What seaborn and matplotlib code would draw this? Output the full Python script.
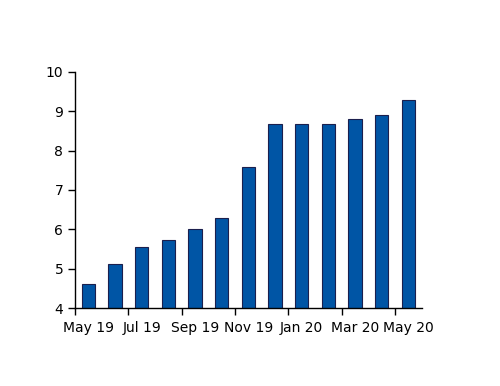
import numpy as np
import pandas as pd
import matplotlib
matplotlib.use("Agg")
import matplotlib.pyplot as plt
import seaborn as sns

# Données
months = ["May 19", "Jun 19", "Jul 19", "Aug 19", "Sep 19", "Oct 19", "Nov 19",
          "Dec 19", "Jan 20", "Feb 20", "Mar 20", "Apr 20", "May 20"]
values = [4.62, 5.12, 5.56, 5.72, 6.0, 6.29, 7.59, 8.68, 8.68, 8.68, 8.80, 8.90, 9.29]
tick_labels = ["May 19", "Jul 19", "Sep 19", "Nov 19", "Jan 20", "Mar 20", "May 20"]

df = pd.DataFrame({"month": months, "value": values})

sns.set_style("white")
plt.rcParams["font.family"] = ["DejaVu Sans"]

fig = plt.figure(figsize=(5, 3.86), dpi=100)
ax = fig.add_axes([0.15, 0.2013, 0.6934, 0.613])

sns.barplot(data=df, x="month", y="value", order=months, color="#0055a5",
            saturation=1, width=0.5, edgecolor="#1b1f4d", linewidth=0.8, ax=ax)

ax.set_xlim(-0.5, len(months) - 0.5)
ax.set_ylim(4, 10)
ax.set_yticks(range(4, 11))

# Graduations entre les barres, étiquettes sous une barre sur deux
ax.set_xticks(np.arange(-0.5, len(months) - 1, 2))
ax.set_xticklabels([])
ax.set_xticks(np.arange(0, len(months), 2), minor=True)
ax.set_xticklabels(tick_labels, minor=True)
ax.tick_params(axis="x", which="major", bottom=True, direction="out", length=5,
               width=1, color="black")
ax.tick_params(axis="x", which="minor", bottom=True, length=0, pad=9,
               labelsize=10, labelcolor="black")
ax.tick_params(axis="y", left=True, direction="out", length=5, width=1,
               color="black", labelsize=10, labelcolor="black")

for s in ["top", "right"]:
    ax.spines[s].set_visible(False)
for s in ["left", "bottom"]:
    ax.spines[s].set_color("black")
    ax.spines[s].set_linewidth(1)

ax.set_xlabel("")
ax.set_ylabel("")

fig.savefig("out.png", dpi=100)
